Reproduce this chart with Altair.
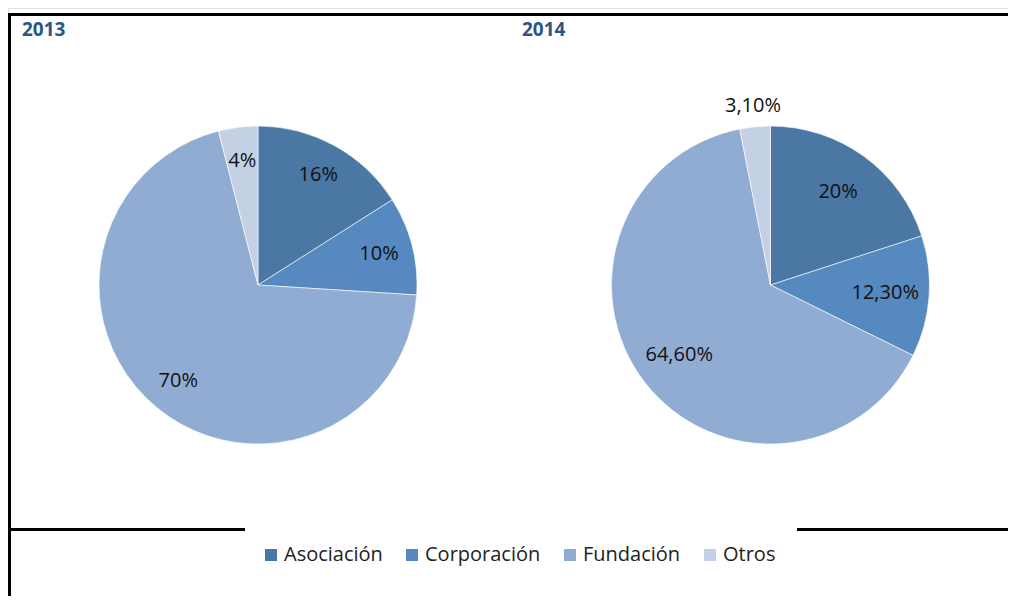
import altair as alt
import pandas as pd

categories = ["Asociación", "Corporación", "Fundación", "Otros"]
years = ["2013", "2014"]
values_2013 = [16, 10, 70, 4]
values_2014 = [20, 12.3, 64.6, 3.1]
labels_2013 = ["16%", "10%", "70%", "4%"]
labels_2014 = ["20%", "12,30%", "64,60%", "3,10%"]
colors = ["#4A77A4", "#5589BF", "#91ACD3", "#C4D1E5"]

rows = []
for yr, vals, labs in [("2013", values_2013, labels_2013), ("2014", values_2014, labels_2014)]:
    for i, (c, v, l) in enumerate(zip(categories, vals, labs)):
        rows.append({"year": yr, "cat": c, "value": v, "label": l, "order": i})
df = pd.DataFrame(rows)

FONT = "Open Sans"

color_enc = alt.Color(
    "cat:N",
    scale=alt.Scale(domain=categories, range=colors),
    sort=categories,
    legend=alt.Legend(
        title=None, orient="none", direction="horizontal",
        legendX=253, legendY=537,
        symbolType="square", symbolSize=144, symbolStrokeWidth=0,
        labelFont=FONT, labelFontSize=20, labelColor="#222222",
        labelOffset=3, columnPadding=19, labelLimit=300,
    ),
)
theta_enc = alt.Theta("value:Q", stack=True, scale=alt.Scale(domain=[0, 100]))
order_enc = alt.Order("order:Q")

centers = {"2013": (250, 277), "2014": (762.5, 277)}

base = alt.Chart(df)

layers = []
for yr in years:
    cx, cy = centers[yr]
    layers.append(
        base.transform_filter(alt.datum.year == yr)
        .mark_arc(radius=159, stroke="#ffffff", strokeWidth=0.6)
        .encode(theta=theta_enc, color=color_enc, order=order_enc,
                x=alt.value(cx), y=alt.value(cy))
    )

LABEL_SIZE = 20
# inside labels
layers.append(
    base.transform_filter((alt.datum.year == "2013"))
    .mark_text(radius=125, font=FONT, fontSize=LABEL_SIZE, color="#111111")
    .encode(theta=theta_enc, order=order_enc, text="label:N",
            x=alt.value(centers["2013"][0]), y=alt.value(centers["2013"][1]))
)
layers.append(
    base.transform_filter(alt.datum.year == "2014")
    .transform_calculate(lab="datum.cat == 'Otros' ? '' : datum.label")
    .mark_text(radius=115, font=FONT, fontSize=LABEL_SIZE, color="#111111")
    .encode(theta=theta_enc, order=order_enc, text="lab:N",
            x=alt.value(centers["2014"][0]), y=alt.value(centers["2014"][1]))
)
# outside label for 2014 Otros
layers.append(
    base.transform_filter(alt.datum.year == "2014")
    .transform_calculate(lab="datum.cat == 'Otros' ? datum.label : ''")
    .mark_text(radius=180, font=FONT, fontSize=LABEL_SIZE, color="#111111")
    .encode(theta=theta_enc, order=order_enc, text="lab:N",
            x=alt.value(centers["2014"][0]), y=alt.value(centers["2014"][1]))
)

# year titles
title_df = pd.DataFrame({"year": years})
title_x = {"2013": 14, "2014": 514}
for yr in years:
    layers.append(
        alt.Chart(title_df).transform_filter(alt.datum.year == yr)
        .mark_text(font=FONT, fontSize=19, fontWeight="bold", color="#2B5587",
                   align="left", baseline="middle")
        .encode(text="year:N", x=alt.value(title_x[yr]), y=alt.value(22))
    )

# frame lines
one = pd.DataFrame({"a": [0]})
line_style = dict(color="#000000", strokeWidth=3, clip=False)
layers.append(alt.Chart(one).mark_rule(**line_style).encode(
    x=alt.value(0.5), x2=alt.value(1008), y=alt.value(6.5)))
layers.append(alt.Chart(one).mark_rule(**line_style).encode(
    x=alt.value(1.5), y=alt.value(5), y2=alt.value(600)))
layers.append(alt.Chart(one).mark_rule(**line_style).encode(
    x=alt.value(0.5), x2=alt.value(237), y=alt.value(521.5)))
layers.append(alt.Chart(one).mark_rule(**line_style).encode(
    x=alt.value(789), x2=alt.value(1008), y=alt.value(521.5)))

chart = alt.layer(*layers).properties(
    width=1000, height=588, padding=0,
    autosize=alt.AutoSizeParams(type="none"),
).configure_view(stroke=None).configure(background="#ffffff")

chart.save("out.html", embed_options={"renderer": "svg", "actions": False})
